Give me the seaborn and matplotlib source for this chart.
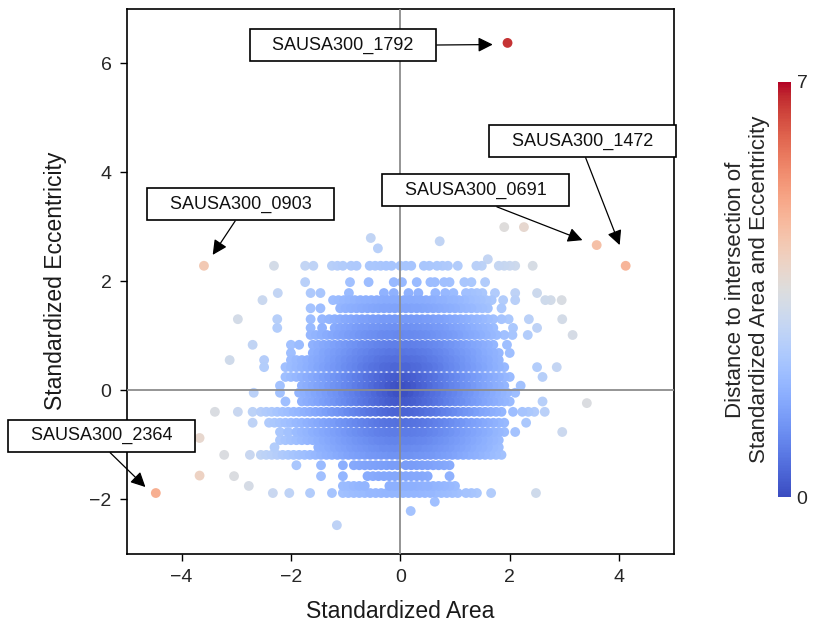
import numpy as np
import seaborn as sns
import matplotlib.pyplot as plt
from matplotlib import cm
from matplotlib.colors import Normalize

# rows of the point cloud (eccentricity comes in discrete levels)
row_y = [2.28, 1.98, 1.78, 1.65, 1.5, 1.30, 1.14, 1.01, 0.83, 0.68, 0.55, 0.42, 0.24,
         0.08, -0.05, -0.21, -0.40, -0.60, -0.77, -0.92, -1.05, -1.19, -1.38, -1.58,
         -1.76, -1.89]

# solid runs of overlapping points per row, read as (start, end) on the area axis
row_bands = [
    [(-1.25, -1.05), (-0.9, -0.78), (-0.56, -0.1), (0.0, 0.2), (0.43, 0.58), (0.67, 0.95),
     (1.39, 1.55), (1.8, 2.14)],
    [(0.8, 0.94)],
    [(1.2, 1.5)],
    [(-1.23, 1.69)],
    [(-1.1, 1.6)],
    [(-1.3, 1.7)],
    [(-1.2, 1.7)],
    [(-1.64, 1.8)],
    [(-1.6, 1.7)],
    [(-1.6, 1.8)],
    [(-2.0, 1.8)],
    [(-2.1, 1.9)],
    [(-2.1, 2.0)],
    [(-1.8, 1.95)],
    [(-1.85, 2.0)],
    [(-1.8, 2.0)],
    [(-2.55, 1.9)],
    [(-2.4, 1.9)],
    [(-1.9, 1.9)],
    [(-2.2, 1.85)],
    [(-1.5, 1.8)],
    [(-2.55, 1.85)],
    [(-0.85, 0.0), (0.1, 0.9)],
    [(-0.6, 0.5)],
    [(-1.05, -0.6), (-0.2, 1.0)],
    [(-1.05, 1.13), (1.2, 1.4)],
]

# isolated points per row
row_singles = [
    [-2.31, -1.74, -1.59, 1.05, 2.42],
    [-1.74, -0.92, -0.58, -0.12, 0.03, 0.3, 0.55, 0.63, 1.17, 1.3, 1.55],
    [-2.24, -1.64, -1.46, -0.94, -0.3, -0.12, 0.15, 0.33, 0.64, 0.82, 0.97, 1.73, 2.1, 2.5],
    [-2.52, 1.88, 2.1, 2.65, 2.75, 2.95],
    [-1.64, -1.46, 1.85],
    [-2.97, -2.25, -1.64, -1.43, 1.85, 1.98, 2.35, 2.96],
    [-2.25, -1.64, -1.43, 2.06, 2.5],
    [1.9, 2.05, 2.33, 3.15],
    [-2.7, -2.0, -1.85, 1.95],
    [-2.0, 2.0],
    [-3.12, -2.49],
    [-2.49, 2.5, 2.86],
    [2.6],
    [-2.2, 2.2],
    [-2.68, -2.2, 2.1],
    [-2.1, 2.6],
    [-3.39, -2.97, -2.7, 2.06, 2.23, 2.34, 2.45, 2.64],
    [-2.7, 2.3],
    [-2.2, -2.05, 2.1, 2.96],
    [],
    [-2.3],
    [-3.22, -2.75],
    [-1.9, -1.45, -1.05],
    [-3.04, -1.45, -1.05, 0.9],
    [-2.77],
    [-2.33, -2.03, -1.65, -1.25, 1.66, 2.48],
]

extra_x = [-0.54, -0.41, 0.72, 1.6, 1.9, 2.26, 0.63, 0.19, -1.16, 3.41, -3.67, -3.67]
extra_y = [2.79, 2.6, 2.73, 2.4, 2.99, 2.99, -2.05, -2.22, -2.48, -0.24, -0.88, -1.57]

# labelled outliers
genes = ["SAUSA300_1792", "SAUSA300_1472", "SAUSA300_0691", "SAUSA300_0903", "SAUSA300_2364"]
gene_x = [1.96, 4.12, 3.59, -3.59, -4.47]
gene_y = [6.37, 2.28, 2.66, 2.28, -1.89]

# where the label boxes sit and where the arrows end
box_xy = [(-1.05, 6.33), (3.33, 4.57), (1.38, 3.67), (-2.92, 3.41), (-5.46, -0.84)]
tip_xy = [(1.69, 6.34), (4.01, 2.66), (3.33, 2.75), (-3.43, 2.48), (-4.66, -1.78)]
arrow_from = [(1, 0.5), (0.5, 0), (0.5, 0), (0.5, 0), (0.5, 0)]

xs, ys = [], []
for y, bands, singles in zip(row_y, row_bands, row_singles):
    for a, b in bands:
        run = np.arange(a, b + 0.001, 0.1)
        xs.extend(run)
        ys.extend([y] * len(run))
    xs.extend(singles)
    ys.extend([y] * len(singles))
xs.extend(extra_x)
ys.extend(extra_y)
xs.extend(gene_x)
ys.extend(gene_y)

xs = np.array(xs)
ys = np.array(ys)
dist = np.sqrt(xs ** 2 + ys ** 2)
order = np.argsort(-dist)
xs, ys, dist = xs[order], ys[order], dist[order]

sns.set_theme(style="ticks")
plt.rcParams['font.family'] = ['Liberation Sans', 'DejaVu Sans']

fig = plt.figure(figsize=(8.13, 6.3), dpi=100)
ax = fig.add_axes([0.156, 0.1214, 0.6728, 0.865])
cax = fig.add_axes([0.957, 0.211, 0.016, 0.659])

sns.scatterplot(x=xs, y=ys, hue=dist, palette="coolwarm", hue_norm=(0, 7),
                s=50, linewidth=0, legend=False, ax=ax)

ax.axhline(0, color="#8c8c8c", lw=1.3, zorder=3)
ax.axvline(0, color="#8c8c8c", lw=1.3, zorder=3)

ax.set_xlim(-5, 5)
ax.set_ylim(-3, 7)
ax.set_xticks([-4, -2, 0, 2, 4])
ax.set_yticks([-2, 0, 2, 4, 6])
ax.set_xlabel("Standardized Area", fontsize=16.5, labelpad=10, color="#1a1a1a")
ax.set_ylabel("Standardized Eccentricity", fontsize=16.5, labelpad=16, color="#1a1a1a")
ax.tick_params(axis="both", labelsize=14, length=5, width=1, pad=6, color="black",
               labelcolor="#262626")
for sp in ax.spines.values():
    sp.set_visible(True)
    sp.set_color("black")
    sp.set_linewidth(1.2)

for name, (bx, by), (tx, ty), rp in zip(genes, box_xy, tip_xy, arrow_from):
    ax.annotate("   " + name + "   ", xy=(tx, ty), xytext=(bx, by),
                ha="center", va="center", fontsize=13, color="#111111",
                bbox=dict(boxstyle="square,pad=0.42", fc="white", ec="black", lw=1.2),
                arrowprops=dict(arrowstyle="-|>", color="black", lw=0.9,
                                mutation_scale=22, shrinkA=0, shrinkB=0, relpos=rp),
                annotation_clip=False, zorder=6)

sm = cm.ScalarMappable(norm=Normalize(0, 7), cmap="coolwarm")
cb = fig.colorbar(sm, cax=cax)
cb.outline.set_visible(False)
cb.set_ticks([0, 7])
cax.tick_params(length=0, labelsize=14, pad=4)
cax.yaxis.set_label_position("left")
cax.set_ylabel("Distance to intersection of\nStandardized Area and Eccentricity",
               fontsize=16, labelpad=6, linespacing=1.15)

fig.savefig("out.png", dpi=100)
